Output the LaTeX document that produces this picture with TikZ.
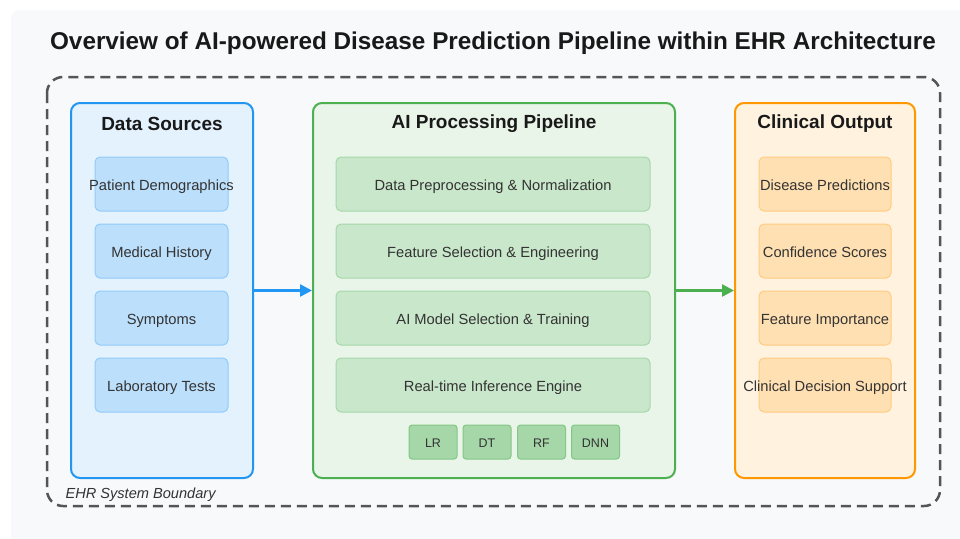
\documentclass[tikz,border=0pt]{standalone}
\usepackage{fontspec}
\setmainfont{Liberation Sans}
\usetikzlibrary{arrows.meta, positioning}
\definecolor{bgcolor}{HTML}{F8F9FA}
\definecolor{srccolor}{HTML}{2196F3}
\definecolor{aicolor}{HTML}{4CAF50}
\definecolor{outcolor}{HTML}{FF9800}
\definecolor{edgecolor}{HTML}{555555}
\definecolor{txtcolor}{HTML}{333333}

\begin{document}
\begin{tikzpicture}[
    x=1pt, y=-1pt,
    stage/.style={draw=#1, line width=2pt, fill=#1!12, rounded corners=9pt, minimum height=375pt},
    stagetitle/.style={font=\bfseries\fontsize{19}{22}\selectfont, text=black!90},
    item/.style={draw=#1!50, line width=1pt, fill=#1!30, rounded corners=5pt, minimum height=54pt, inner xsep=0pt, text height=12.5pt, text depth=0pt, font=\fontsize{14.7}{17}\selectfont, text=txtcolor},
    chip/.style={draw=aicolor!70, line width=1pt, fill=aicolor!50, rounded corners=3pt, minimum width=48pt, minimum height=34pt, inner sep=0pt, text height=10pt, text depth=0pt, font=\fontsize{12.5}{15}\selectfont, text=txtcolor},
    flow/.style={-{Triangle[length=12pt, width=12pt]}, line width=2.5pt}
]
    \useasboundingbox (0,0) rectangle (960,538);
    \fill[bgcolor, rounded corners=8pt] (11,10) rectangle (975,550);

    \node[font=\bfseries\fontsize{24.3}{28}\selectfont, text=black!90] (title) at (493,43) {Overview of AI-powered Disease Prediction Pipeline within EHR Architecture};

    % EHR boundary
    \draw[edgecolor, line width=2.5pt, dash pattern=on 10pt off 6pt, rounded corners=16pt] (47,77) rectangle (940,506);
    \node[font=\itshape\fontsize{14.6}{17}\selectfont, text=txtcolor, anchor=west] (ehr) at (62,495) {EHR System Boundary};

    % Stages
    \node[stage=srccolor, minimum width=182pt] (src) at (162,290.5) {};
    \node[stage=aicolor, minimum width=362pt] (ai) at (494,290.5) {};
    \node[stage=outcolor, minimum width=180pt] (clin) at (825,290.5) {};

    \node[stagetitle] (srctitle) at (162,124) {Data Sources};
    \node[stagetitle] (aititle) at (494,124) {AI Processing Pipeline};
    \node[stagetitle] (clintitle) at (825,124) {Clinical Output};

    % Data sources
    \node[item=srccolor, minimum width=133pt] (demo) at (161.5,184) {\makebox[0pt]{Patient Demographics}};
    \node[item=srccolor, minimum width=133pt] (hist) at (161.5,251) {Medical History};
    \node[item=srccolor, minimum width=133pt] (symp) at (161.5,318) {Symptoms};
    \node[item=srccolor, minimum width=133pt] (labs) at (161.5,385) {Laboratory Tests};

    % Pipeline steps
    \node[item=aicolor, minimum width=314pt] (prep) at (493,184) {Data Preprocessing \& Normalization};
    \node[item=aicolor, minimum width=314pt] (feat) at (493,251) {Feature Selection \& Engineering};
    \node[item=aicolor, minimum width=314pt] (train) at (493,318) {AI Model Selection \& Training};
    \node[item=aicolor, minimum width=314pt] (infer) at (493,385) {Real-time Inference Engine};

    \node[chip] (lr) at (433,442) {LR};
    \node[chip] (dt) at (487,442) {DT};
    \node[chip] (rf) at (541.5,442) {RF};
    \node[chip] (dnn) at (595.5,442) {DNN};

    % Outputs
    \node[item=outcolor, minimum width=132pt] (pred) at (825,184) {Disease Predictions};
    \node[item=outcolor, minimum width=132pt] (conf) at (825,251) {Confidence Scores};
    \node[item=outcolor, minimum width=132pt] (imp) at (825,318) {Feature Importance};
    \node[item=outcolor, minimum width=132pt] (cds) at (825,385) {\makebox[0pt]{Clinical Decision Support}};

    % Flow
    \draw[flow, srccolor] (src.east |- symp.north) coordinate (srcout) -- (srcout -| ai.west);
    \draw[flow, aicolor] (ai.east |- train.north) coordinate (aiout) -- (aiout -| clin.west);
\end{tikzpicture}
\end{document}
